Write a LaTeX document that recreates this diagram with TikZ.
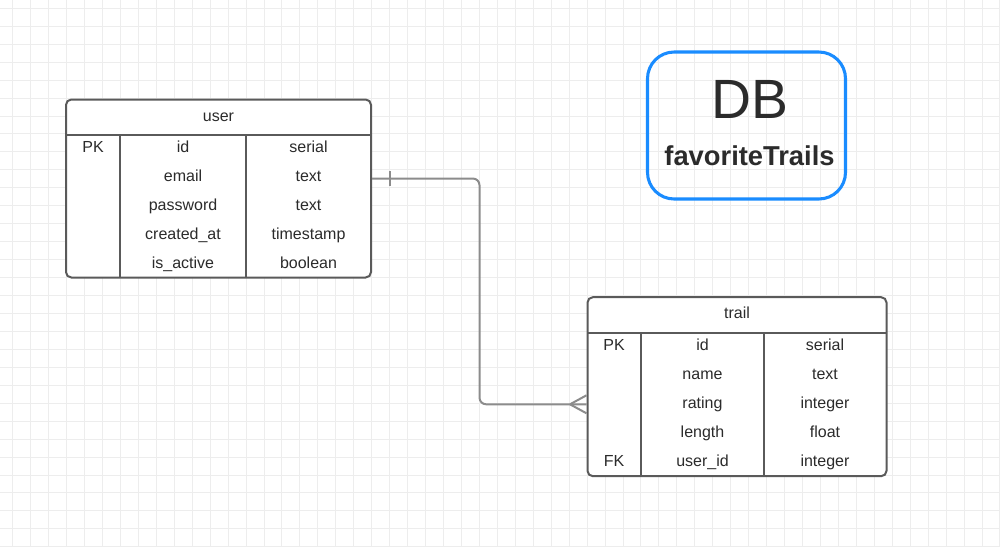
\documentclass[tikz,border=0pt]{standalone}
\usepackage{fontspec}
\setmainfont{Liberation Sans}
\usetikzlibrary{calc}
\definecolor{gridc}{HTML}{EDEDED}
\definecolor{edgec}{HTML}{5A5A5A}
\definecolor{connc}{HTML}{8C8C8C}
\definecolor{txt}{HTML}{2B2B2B}
\definecolor{dbblue}{HTML}{1A8CFF}
\begin{document}
\begin{tikzpicture}[x=0.75pt,y=-0.75pt,
  tbl/.style={draw=edgec, line width=1.5pt, rounded corners=4pt, fill=white, inner sep=0pt},
  sep/.style={draw=edgec, line width=1.5pt},
  cell/.style={text=txt, font=\fontsize{12}{14}\selectfont, inner sep=0pt, anchor=base},
  connline/.style={draw=connc, line width=1.5pt},
  dbbox/.style={draw=dbblue, line width=2.3pt, rounded corners=20pt, inner sep=0pt}]
\useasboundingbox (0,0) rectangle (1000,547);
\fill[white] (0,0) rectangle (1000,547);
% grid
\foreach \i in {0,...,55} \draw[gridc, line width=0.75pt] ({12.7+17.95*\i},0) -- ({12.7+17.95*\i},547);
\foreach \j in {0,...,30} \draw[gridc, line width=0.75pt] (0,{8.3+17.95*\j}) -- (1000,{8.3+17.95*\j});

% DB box
\node[dbbox, minimum width=148.5pt, minimum height=110.25pt] (db) at (746.5,125.5) {};
\node[text=txt, font=\fontsize{41.5}{44}\selectfont, inner sep=0pt, anchor=base] (dbt) at (749.5,118.3) {DB};
\node[text=txt, font=\fontsize{20.5}{23}\selectfont\bfseries, inner sep=0pt, anchor=base] (dbn) at (749.5,165.7) {favoriteTrails};

% user table
\node[tbl, minimum width=228.75pt, minimum height=133.5pt] (user) at (218.5,188.5) {};
\draw[sep] (66,135) -- (371,135);
\draw[sep] (120,135) -- (120,278);
\draw[sep] (245.7,135) -- (245.7,278);
\node[cell] (uh) at (218.5,121) {user};
\node[cell] (u1a) at (93,152.5) {PK};
\node[cell] (u1b) at (183,152.5) {id};
\node[cell] (u1c) at (308.5,152.5) {serial};
\node[cell] (u2b) at (183,181.5) {email};
\node[cell] (u2c) at (308.5,181.5) {text};
\node[cell] (u3b) at (183,210.5) {password};
\node[cell] (u3c) at (308.5,210.5) {text};
\node[cell] (u4b) at (183,239.5) {created\_at};
\node[cell] (u4c) at (308.5,239.5) {timestamp};
\node[cell] (u5b) at (183,268.5) {is\_active};
\node[cell] (u5c) at (308.5,268.5) {boolean};

% trail table
\node[tbl, minimum width=224.25pt, minimum height=134.25pt] (trail) at (737,386.7) {};
\draw[sep] (587.5,333) -- (886.5,333);
\draw[sep] (641,333) -- (641,476);
\draw[sep] (764,333) -- (764,476);
\node[cell] (th) at (737,318.7) {trail};
\node[cell] (t1a) at (614,350.5) {PK};
\node[cell] (t1b) at (702.5,350.5) {id};
\node[cell] (t1c) at (825,350.5) {serial};
\node[cell] (t2b) at (702.5,379.5) {name};
\node[cell] (t2c) at (825,379.5) {text};
\node[cell] (t3b) at (702.5,408.5) {rating};
\node[cell] (t3c) at (825,408.5) {integer};
\node[cell] (t4b) at (702.5,437.5) {length};
\node[cell] (t4c) at (825,437.5) {float};
\node[cell] (t5a) at (614,466.5) {FK};
\node[cell] (t5b) at (702.5,466.5) {user\_id};
\node[cell] (t5c) at (825,466.5) {integer};

% connector
\coordinate (ya) at (0,178.5);
\coordinate (yb) at (0,404.3);
\coordinate (bend) at (479.5,0);
\draw[connline, rounded corners=5pt] (user.east |- ya) -- (bend |- ya) -- (bend |- yb) -- (trail.west |- yb);
\coordinate (bar) at (390,0);
\draw[connline] ($(bar |- ya)+(0,-7.5)$) -- ($(bar |- ya)+(0,7.5)$);
\coordinate (foot) at (570,0);
\draw[connline] (foot |- yb) -- ($(trail.west |- yb)+(0,-9)$);
\draw[connline] (foot |- yb) -- ($(trail.west |- yb)+(0,9)$);
\end{tikzpicture}
\end{document}
